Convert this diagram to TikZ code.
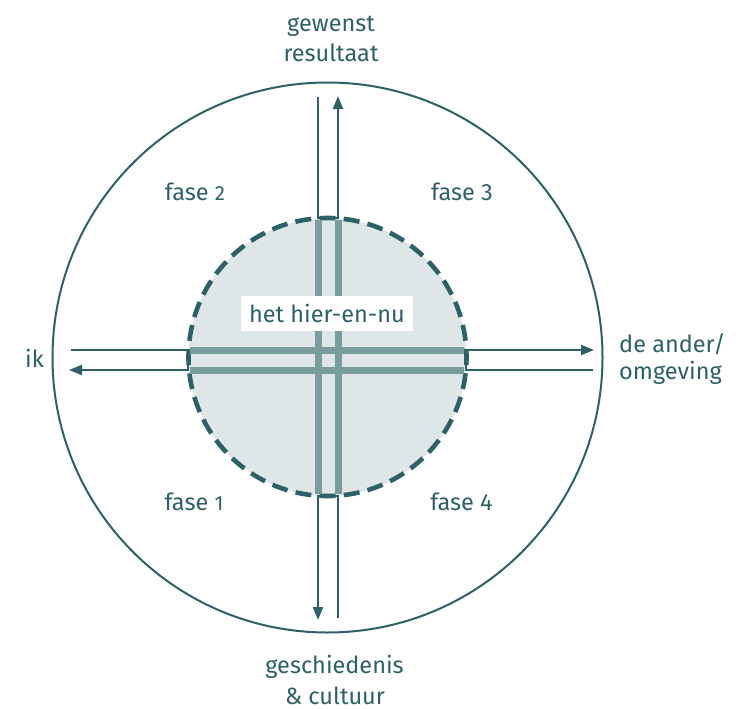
\documentclass[tikz,border=0pt]{standalone}
\usepackage{fontspec}
\setmainfont{Fira Sans}
\usetikzlibrary{arrows.meta}
\definecolor{dteal}{HTML}{2D6167}
\definecolor{lfill}{HTML}{DFE6E7}
\definecolor{lband}{HTML}{7A9C9D}
\newcommand{\osf}[1]{{\fontsize{20.5}{22}\selectfont #1}}
\begin{document}
\begin{tikzpicture}[x=1pt,y=-1pt,
  lbl/.style={text=dteal,font=\fontsize{23.5}{30}\selectfont,inner sep=0pt,anchor=base},
  thin/.style={draw=dteal,line width=2.2pt},
  arr/.style={thin,-{Triangle[length=13pt,width=10pt]}},
  band/.style={draw=lband,line width=7pt},
]
\useasboundingbox (0,0) rectangle (744,709);
% centres
\coordinate (O) at (327.5,357.5);
\coordinate (I) at (327.5,357);
% outer circle
\draw[dteal,line width=2pt] (O) circle[radius=275];
% inner disc
\fill[lfill] (I) circle[radius=139];
\draw[dteal,line width=4.6pt,dash pattern=on 16pt off 8.26pt,dash phase=8pt] (I) circle[radius=139];
% thick bands
\coordinate (bT1) at (318,220); \coordinate (bB1) at (318,494);
\coordinate (bT2) at (338,220); \coordinate (bB2) at (338,494);
\coordinate (bL1) at (190,350); \coordinate (bR1) at (464,350);
\coordinate (bL2) at (190,370); \coordinate (bR2) at (464,370);
\draw[band] (bT1) -- (bB1);
\draw[band] (bT2) -- (bB2);
\draw[band] (bL1) -- (bR1);
\draw[band] (bL2) -- (bR2);
% connectors
\coordinate (tA) at (318,97); \coordinate (tB) at (338,96);
\draw[arr] (tA) -- (318,218) -- (338,218) -- (tB);
\coordinate (lA) at (71,350); \coordinate (lB) at (69,370);
\draw[arr] (lA) -- (188,350) -- (188,370) -- (lB);
\coordinate (rA) at (593,370); \coordinate (rB) at (594,350);
\draw[arr] (rA) -- (466,370) -- (466,350) -- (rB);
\coordinate (dA) at (338,618); \coordinate (dB) at (318,620);
\draw[arr] (dA) -- (338,496) -- (318,496) -- (dB);
% centre label
\node[lbl,fill=white,anchor=center,minimum width=172pt,minimum height=35pt] (hier) at (327,313.5) {het hier-en-nu};
% labels
\node[lbl] (gew1) at (331,32) {gewenst};
\node[lbl] (gew2) at (331,62) {resultaat};
\node[lbl] (ges1) at (334.5,673) {geschiedenis};
\node[lbl] (ges2) at (335,704) {\&\ cultuur};
\node[lbl] (ik) at (34.5,367) {ik};
\node[lbl,anchor=base west] (and1) at (619,352.5) {de ander/};
\node[lbl,anchor=base west] (and2) at (619,379) {omgeving};
\node[lbl] (f2) at (195,200) {fase \osf{2}};
\node[lbl] (f3) at (462,200) {fase 3};
\node[lbl] (f1) at (194,510) {fase \osf{1}};
\node[lbl] (f4) at (461.5,510) {fase 4};
\end{tikzpicture}
\end{document}
